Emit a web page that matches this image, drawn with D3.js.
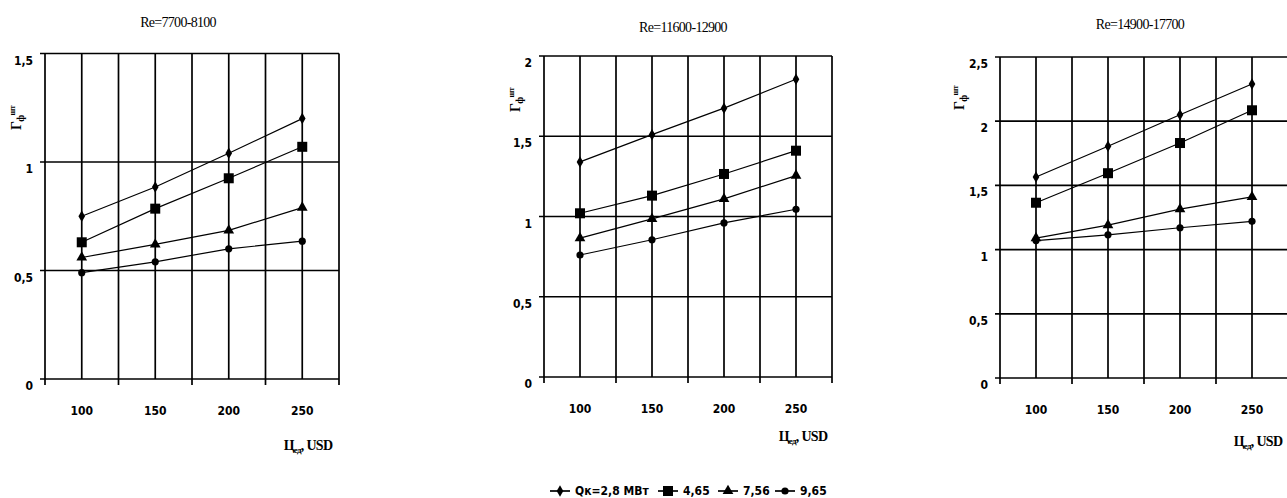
<!DOCTYPE html>
<html>
<head>
<meta charset="utf-8">
<script src="https://cdn.jsdelivr.net/npm/d3@7"></script>
<style>
  body { margin: 0; background: #fff; }
  svg text { fill: #000; }
  .tick-lbl { font-family: "Liberation Sans Narrow", "DejaVu Sans Condensed", sans-serif; font-size: 12px; font-weight: bold; }
  .ttl { font-family: "Liberation Serif", serif; font-size: 14px; letter-spacing: -0.7px; }
</style>
</head>
<body>
<svg id="chart" width="1287" height="498"></svg>
<script>
// categories on the x axis (unit price, USD)
var categories = [100, 150, 200, 250];
var titles = ["Re=7700-8100", "Re=11600-12900", "Re=14900-17700"];
var seriesNames = ["Qк=2,8 МВт", "4,65", "7,56", "9,65"];
var seriesMarks = ["diamond", "square", "triangle", "circle"];

// y axis ticks for every panel
var yTicks1 = [0, 0.5, 1, 1.5];
var yTicks2 = [0, 0.5, 1, 1.5, 2];
var yTicks3 = [0, 0.5, 1, 1.5, 2, 2.5];

// Re=7700-8100
var re1_q28 = [0.75, 0.885, 1.04, 1.20];
var re1_q465 = [0.63, 0.785, 0.925, 1.07];
var re1_q756 = [0.56, 0.62, 0.685, 0.79];
var re1_q965 = [0.49, 0.54, 0.60, 0.635];

// Re=11600-12900
var re2_q28 = [1.34, 1.51, 1.675, 1.855];
var re2_q465 = [1.02, 1.13, 1.265, 1.41];
var re2_q756 = [0.865, 0.985, 1.11, 1.255];
var re2_q965 = [0.76, 0.855, 0.96, 1.045];

// Re=14900-17700
var re3_q28 = [1.565, 1.805, 2.05, 2.29];
var re3_q465 = [1.365, 1.595, 1.83, 2.085];
var re3_q756 = [1.09, 1.19, 1.315, 1.41];
var re3_q965 = [1.07, 1.115, 1.17, 1.22];

var panels = [
  {left: 45, right: 339, top: 53.5, bottom: 379, ticks: yTicks1, series: [re1_q28, re1_q465, re1_q756, re1_q965],
   title: titles[0], tx: 178, ty: 27, ylx: 21, yly: 118, xlx: 308, xly: 450},
  {left: 544, right: 832, top: 56, bottom: 377, ticks: yTicks2, series: [re2_q28, re2_q465, re2_q756, re2_q965],
   title: titles[1], tx: 683, ty: 32, ylx: 520, yly: 100, xlx: 803, xly: 441},
  {left: 1000, right: 1288, top: 57, bottom: 378, ticks: yTicks3, series: [re3_q28, re3_q465, re3_q756, re3_q965],
   title: titles[2], tx: 1140, ty: 29, ylx: 964, yly: 98, xlx: 1258, xly: 446}
];

var svg = d3.select('#chart');

function marker(g, kind, x, y) {
  if (kind == "diamond") {
    g.append('path').attr('d', d3.symbol().type(d3.symbolDiamond).size(38)()).attr('transform', 'translate(' + x + ',' + y + ')');
  } else if (kind == "square") {
    g.append('rect').attr('x', x - 5).attr('y', y - 5).attr('width', 10).attr('height', 10);
  } else if (kind == "triangle") {
    g.append('path').attr('d', d3.symbol().type(d3.symbolTriangle).size(50)()).attr('transform', 'translate(' + x + ',' + y + ')');
  } else {
    g.append('circle').attr('cx', x).attr('cy', y).attr('r', 3.6);
  }
}

panels.forEach(function(p) {
  var g = svg.append('g');
  var x = d3.scaleBand().domain(categories).range([p.left, p.right]).padding(0);
  var y = d3.scaleLinear().domain([0, d3.max(p.ticks)]).range([p.bottom, p.top]);

  // vertical grid lines at band edges and centers
  var vx = [];
  categories.forEach(function(c) {
    vx.push(x(c));
    vx.push(x(c) + x.bandwidth() / 2);
  });
  vx.push(p.right);
  g.selectAll('.vg').data(vx).enter().append('line')
    .attr('x1', function(d) { return d; }).attr('x2', function(d) { return d; })
    .attr('y1', p.top).attr('y2', p.bottom)
    .attr('stroke', '#000').attr('stroke-width', 1.7);

  // horizontal grid lines
  g.selectAll('.hg').data(p.ticks).enter().append('line')
    .attr('x1', p.left - 5).attr('x2', p.right)
    .attr('y1', function(d) { return y(d); }).attr('y2', function(d) { return y(d); })
    .attr('stroke', '#000').attr('stroke-width', 1.7);

  // x tick marks below axis at band edges
  var edges = categories.map(function(c) { return x(c); }).concat([p.right]);
  g.selectAll('.xt').data(edges).enter().append('line')
    .attr('x1', function(d) { return d; }).attr('x2', function(d) { return d; })
    .attr('y1', p.bottom).attr('y2', p.bottom + 6)
    .attr('stroke', '#000').attr('stroke-width', 1.7);

  // y tick labels
  g.selectAll('.yl').data(p.ticks).enter().append('text')
    .attr('class', 'tick-lbl')
    .attr('x', p.left - 12).attr('y', function(d) { return y(d) + 11; })
    .attr('text-anchor', 'end')
    .text(function(d) { return d3.format('')(d).replace('.', ','); });

  // x tick labels
  g.selectAll('.xl').data(categories).enter().append('text')
    .attr('class', 'tick-lbl')
    .attr('x', function(d) { return x(d) + x.bandwidth() / 2; }).attr('y', p.bottom + 36)
    .attr('text-anchor', 'middle')
    .text(function(d) { return d; });

  // title
  g.append('text').attr('class', 'ttl').attr('x', p.tx).attr('y', p.ty)
    .attr('text-anchor', 'middle').text(p.title);

  // y axis title (rotated)
  var yl = g.append('text').attr('class', 'ttl')
    .attr('transform', 'translate(' + p.ylx + ',' + p.yly + ') rotate(-90)')
    .attr('text-anchor', 'middle').attr('font-weight', 'bold');
  yl.append('tspan').text('Г');
  yl.append('tspan').attr('dy', 3).attr('font-size', 10).text('ф');
  yl.append('tspan').attr('dy', -9).attr('font-size', 8).text('шт');

  // x axis title
  var xl = g.append('text').attr('class', 'ttl').attr('x', p.xlx).attr('y', p.xly)
    .attr('text-anchor', 'middle').attr('font-weight', 'bold');
  xl.append('tspan').text('Ц');
  xl.append('tspan').attr('dy', 3).attr('font-size', 9).text('ед');
  xl.append('tspan').attr('dy', -3).text(', USD');

  // series
  var line = d3.line()
    .x(function(d, i) { return x(categories[i]) + x.bandwidth() / 2; })
    .y(function(d) { return y(d); });
  p.series.forEach(function(s, si) {
    g.append('path').datum(s).attr('d', line)
      .attr('fill', 'none').attr('stroke', '#000').attr('stroke-width', 1.2);
    s.forEach(function(v, i) {
      marker(g, seriesMarks[si], x(categories[i]) + x.bandwidth() / 2, y(v));
    });
  });
});

// legend
var lg = svg.append('g');
var lx = [550, 658, 718, 775];
seriesNames.forEach(function(n, i) {
  var x0 = lx[i];
  lg.append('line').attr('x1', x0).attr('x2', x0 + 20).attr('y1', 491).attr('y2', 491)
    .attr('stroke', '#000').attr('stroke-width', 1.7);
  marker(lg, seriesMarks[i], x0 + 10, 491);
  lg.append('text').attr('class', 'tick-lbl').attr('x', x0 + 25).attr('y', 495)
    .attr('font-size', 11).text(n);
});
</script>
</body>
</html>
